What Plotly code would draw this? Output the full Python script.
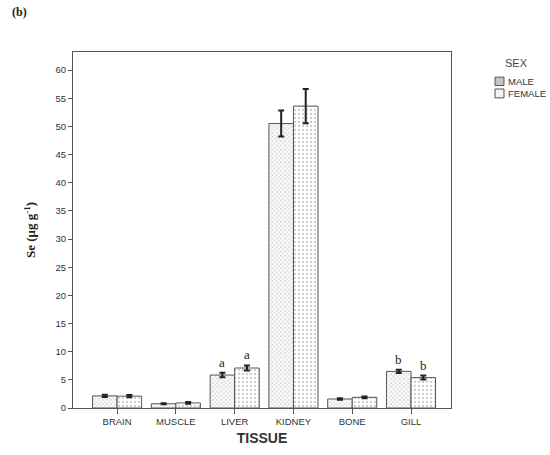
import plotly.graph_objects as go

tissues = ["BRAIN", "MUSCLE", "LIVER", "KIDNEY", "BONE", "GILL"]
male_vals = [2.15, 0.75, 5.85, 50.5, 1.6, 6.5]
male_err = [0.2, 0.1, 0.4, 2.3, 0.15, 0.3]
female_vals = [2.1, 0.9, 7.1, 53.6, 1.9, 5.4]
female_err = [0.2, 0.15, 0.45, 3.05, 0.15, 0.35]
letters_tissue = ["LIVER", "LIVER", "GILL", "GILL"]
letters_text = ["a", "a", "b", "b"]
letters_series = [0, 1, 0, 1]
series_names = ["MALE", "FEMALE"]
y_ticks = list(range(0, 61, 5))

fig = go.Figure()
fig.add_trace(go.Bar(
    name=series_names[0], x=tissues, y=male_vals, showlegend=False,
    error_y=dict(type="data", array=male_err, color="#222", thickness=2, width=3),
    marker=dict(color="white", line=dict(color="#555", width=1),
                pattern=dict(shape="x", size=3, solidity=0.4, fgcolor="#9a9a9a", bgcolor="white")),
))
fig.add_trace(go.Bar(
    name=series_names[1], x=tissues, y=female_vals, showlegend=False,
    error_y=dict(type="data", array=female_err, color="#222", thickness=2, width=3),
    marker=dict(color="white", line=dict(color="#555", width=1),
                pattern=dict(shape=".", size=4, solidity=0.25, fgcolor="#9a9a9a", bgcolor="white")),
))

vals = [male_vals, female_vals]
errs = [male_err, female_err]
for t, txt, s in zip(letters_tissue, letters_text, letters_series):
    i = tissues.index(t)
    off = -0.2085 if s == 0 else 0.2085
    fig.add_annotation(x=i + off, y=vals[s][i] + errs[s][i], text=txt, showarrow=False,
                       yanchor="bottom", yshift=1, xref="x", yref="y",
                       font=dict(family="Liberation Serif", size=13, color="#222"))

fig.add_annotation(x=-0.167, y=1.111, xref="paper", yref="paper", xanchor="left", yanchor="middle",
                   text="<b>(b)</b>", showarrow=False,
                   font=dict(family="Liberation Serif", size=12, color="#222"))

# manual legend
fig.add_annotation(x=1.1738, y=0.9695, xref="paper", yref="paper", xanchor="center", yanchor="middle",
                   text="SEX", showarrow=False, font=dict(family="Liberation Sans", size=11, color="#444"))
sw_fill = ["#c4c4c4", "#f2f2f2"]
sw_y = [(0.9058, 0.9294), (0.8712, 0.8961)]
txt_y = [0.9177, 0.8837]
for k in range(2):
    fig.add_shape(type="rect", xref="paper", yref="paper", x0=1.1164, x1=1.1402,
                  y0=sw_y[k][0], y1=sw_y[k][1], fillcolor=sw_fill[k],
                  line=dict(color="#555", width=1))
    fig.add_annotation(x=1.148, y=txt_y[k], xref="paper", yref="paper", xanchor="left", yanchor="middle",
                       text=series_names[k], showarrow=False, borderpad=0,
                       font=dict(family="Liberation Sans", size=9.5, color="#333"))

fig.update_layout(
    width=550, height=455,
    margin=dict(l=73, r=99, t=52, b=42),
    paper_bgcolor="white", plot_bgcolor="white",
    barmode="group", bargap=0.165, bargroupgap=0,
    font=dict(family="Liberation Sans", size=9.5, color="#333"),
    xaxis=dict(range=[-0.75, 5.68], showline=True, linecolor="#555", linewidth=1, mirror=True,
               ticks="outside", ticklen=5, tickcolor="#555", showgrid=False,
               title=dict(text="<b>TISSUE</b>", font=dict(family="Liberation Sans", size=14, color="#333"), standoff=6)),
    yaxis=dict(range=[0, 63.2], tickvals=y_ticks, showline=True, linecolor="#555", linewidth=1, mirror=True,
               ticks="outside", ticklen=4, tickcolor="#555", showgrid=False, zeroline=False,
               title=dict(text="<b>Se (μg g<sup>-1</sup>)</b>", font=dict(family="Liberation Serif", size=13, color="#222"), standoff=16)),
)
fig.write_html("out.html", config={"displayModeBar": False},
               post_script="document.body.style.margin='0';document.body.style.overflow='hidden';")
